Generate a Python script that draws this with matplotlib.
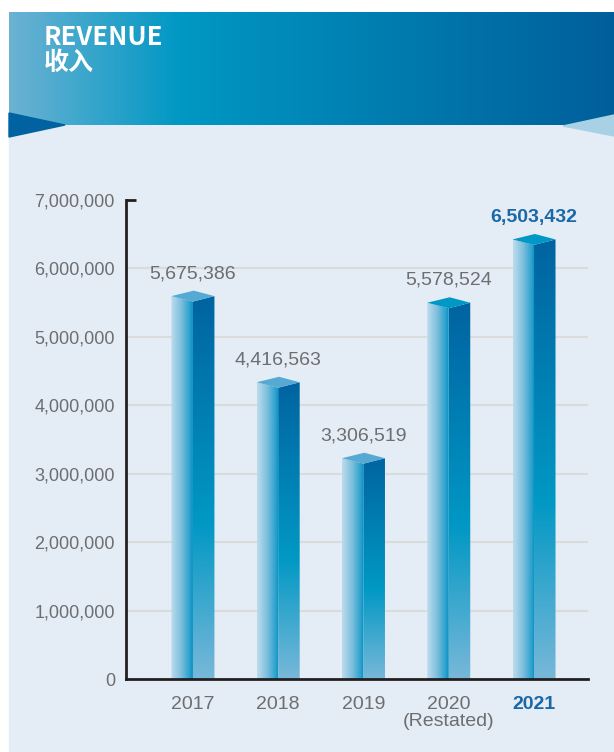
import numpy as np
import matplotlib.pyplot as plt
import matplotlib.transforms as mtransforms
from matplotlib.colors import LinearSegmentedColormap
from matplotlib.patches import Polygon, Rectangle

# data
years = ['2017', '2018', '2019', '2020\n(Restated)', '2021']
revenue = [5675386, 4416563, 3306519, 5578524, 6503432]
cap_colors = ['#55a9d3', '#55a9d3', '#55a9d3', '#0098c4', '#0098c4']
y_ticks = [0, 1000000, 2000000, 3000000, 4000000, 5000000, 6000000, 7000000]

plt.rcParams['font.family'] = ['Liberation Sans', 'DejaVu Sans']

W, H = 614, 752
fig = plt.figure(figsize=(W / 100, H / 100), dpi=100)
fig.patch.set_facecolor('white')

# background / header in pixel coordinates
bg = fig.add_axes([0, 0, 1, 1])
bg.set_xlim(0, W)
bg.set_ylim(H, 0)
bg.axis('off')

bg.add_patch(Rectangle((9, 125), W - 9, H - 125, color='#e4ecf6', zorder=0))
header_cmap = LinearSegmentedColormap.from_list(
    'hdr', [(0, '#6cb2d3'), (0.28, '#0098c4'), (1, '#005f9a')])
bg.imshow(np.linspace(0, 1, 256).reshape(1, -1), cmap=header_cmap,
          extent=[9, W, 125, 12], aspect='auto', zorder=1)
bg.add_patch(Polygon([(9, 113), (65, 125), (9, 137)], color='#0062a0', zorder=2))
bg.add_patch(Polygon([(W, 115), (563, 126), (W, 136)], color='#a9d1e5', zorder=2))
bg.set_xlim(0, W)
bg.set_ylim(H, 0)

bg.text(44, 45, 'REVENUE', color='white', fontsize=18.5, fontweight='bold',
        family=['Noto Sans CJK SC', 'DejaVu Sans'], va='baseline')
bg.text(44, 70, '收入', color='white', fontsize=18, fontweight='bold',
        family=['Noto Sans CJK SC', 'DejaVu Sans'], va='baseline')

# chart axes
ax = fig.add_axes([126 / W, (H - 679) / H, 462 / W, 479 / H])
ax.patch.set_alpha(0)

x = np.arange(len(years))
bar_w = 0.504
d = 80000  # half depth of the top cap in data units

face_cmap = LinearSegmentedColormap.from_list(
    'face', [(0, '#bddced'), (0.45, '#80c0de'), (0.85, '#2ea2cd'), (1, '#0090c0')])
side_cmap = LinearSegmentedColormap.from_list(
    'side', [(0, '#78b8d9'), (0.4, '#0098c4'), (1, '#0062a0')])

for xi, v, cc in zip(x, revenue, cap_colors):
    l, r = xi - bar_w / 2, xi + bar_w / 2
    # left face, horizontal gradient
    left_poly = Polygon([(l, 0), (l, v - d), (xi, v - 2 * d), (xi, 0)],
                        transform=ax.transData, closed=True)
    im = ax.imshow(np.linspace(0, 1, 128).reshape(1, -1), cmap=face_cmap,
                   extent=[l, xi, 0, v], aspect='auto', zorder=2)
    im.set_clip_path(left_poly)
    # right face, vertical gradient
    right_poly = Polygon([(xi, 0), (xi, v - 2 * d), (r, v - d), (r, 0)],
                         transform=ax.transData, closed=True)
    im = ax.imshow(np.linspace(1, 0, 256).reshape(-1, 1), cmap=side_cmap,
                   extent=[xi, r, 0, v], aspect='auto', zorder=2)
    im.set_clip_path(right_poly)
    # top cap
    ax.add_patch(Polygon([(l, v - d), (xi + 0.01, v), (r, v - d), (xi, v - 2 * d)],
                         color=cc, zorder=3, lw=0))

# value labels
for xi, v in zip(x, revenue):
    last = xi == x[-1]
    ax.annotate(f'{v:,}', (xi, v), xytext=(0, 6), textcoords='offset points',
                ha='center', va='bottom', fontsize=14,
                color='#1b68a6' if last else '#6d6e70',
                fontweight='bold' if last else 'normal')

ax.set_xlim(-0.785, 4.633)
ax.set_ylim(0, 7000000)

# gridlines
ax.hlines(y_ticks[1:-1], -0.785, 4.633, color='#d9dcd9', lw=1.5, zorder=1)

ax.set_yticks(y_ticks)
ax.set_yticklabels([f'{t:,}' for t in y_ticks])
ax.set_xticks(x)
ax.set_xticklabels(years)
ax.tick_params(axis='y', length=0, pad=8, labelsize=13, labelcolor='#6d6e70')
ax.tick_params(axis='x', length=0, pad=12, labelsize=14, labelcolor='#6d6e70')
for lbl in ax.get_xticklabels():
    lbl.set_linespacing(1.05)
last_lbl = ax.get_xticklabels()[-1]
last_lbl.set_color('#1b68a6')
last_lbl.set_fontweight('bold')

for side in ['top', 'right']:
    ax.spines[side].set_visible(False)
for side in ['left', 'bottom']:
    ax.spines[side].set_color('#231f20')
    ax.spines[side].set_linewidth(2)

# short tick at the top of the y axis
trans = mtransforms.blended_transform_factory(ax.transAxes, ax.transData)
ax.plot([0, 0.022], [7000000, 7000000], color='#231f20', lw=2,
        transform=trans, clip_on=False, solid_capstyle='butt')

fig.savefig('out.png', dpi=100)
